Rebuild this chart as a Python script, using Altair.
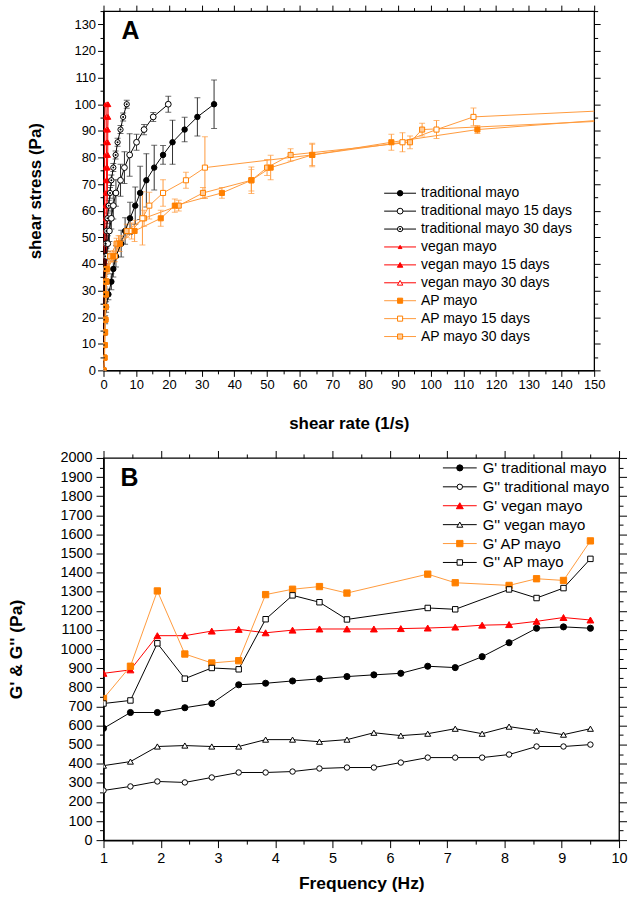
import altair as alt
import pandas as pd

FONT = "Liberation Sans"

# ================= Panel A : flow curves =================
STRESS = [0, 4.76, 9.52, 14.29, 19.05, 23.81, 28.57, 33.33, 38.10, 42.86, 47.62,
          52.38, 57.14, 61.90, 66.67, 71.43, 76.19, 80.95, 85.71, 90.48, 95.24, 100.0]

A_SERIES = ["traditional mayo", "traditional mayo 15 days", "traditional mayo 30 days",
            "vegan mayo", "vegan mayo 15 days", "vegan mayo 30 days",
            "AP mayo", "AP mayo 15 days", "AP mayo 30 days"]
# drawing order (first drawn = bottom)
A_DRAW = ["vegan mayo 30 days", "vegan mayo", "vegan mayo 15 days",
          "traditional mayo 30 days", "traditional mayo 15 days", "traditional mayo",
          "AP mayo 30 days", "AP mayo 15 days", "AP mayo"]

TRAD = [0, 0.1, 0.2, 0.3, 0.5, 0.8, 1.5, 2.4, 3.0, 3.8, 5.4, 6.6, 8.1, 9.7, 11.2, 13.1, 15.5, 18.2, 21.1, 24.8, 28.7, 33.8]
TRAD_ERR = [0, 0.5, 0.5, 1, 1.5, 2, 2, 3, 3, 4, 5, 5, 6, 7, 10, 10, 8.4, 3.5, 8.3, 4.6, 7.2, 9.1]
TRAD15 = [0, 0.02, 0.05, 0.1, 0.15, 0.2, 0.3, 0.4, 0.6, 0.9, 1.3, 1.8, 2.4, 3.0, 3.8, 5.2, 6.4, 8.0, 10.1, 12.4, 15.2, 19.8]
TRAD15_ERR = [0, 0, 0.5, 0.5, 1, 1, 1.5, 2, 2, 3, 3, 4, 4, 5, 5, 6, 6, 8, 3, 1.9, 1.7, 3]
TRAD30 = [0, 0.02, 0.04, 0.07, 0.1, 0.15, 0.2, 0.25, 0.35, 0.5, 0.7, 0.9, 1.2, 1.6, 2.0, 2.4, 3.0, 3.7, 4.3, 5.2, 6.0, 7.1]
TRAD30_ERR = [0, 0, 0, 0.5, 0.5, 0.5, 1, 1, 1, 1.5, 1.5, 1.5, 2, 2, 2, 2, 1.5, 1.5, 1.5, 1.5, 1.5, 1.5]
VEGAN = [0, 0.05, 0.05, 0.1, 0.1, 0.1, 0.15, 0.15, 0.2, 0.2, 0.2, 0.25, 0.25, 0.3, 0.3, 0.3, 0.35, 0.35, 0.4, 0.4, 0.45, 0.5]
VEGAN15 = [0, 0.1, 0.2, 0.3, 0.4, 0.5, 0.6, 0.7, 0.8, 0.9, 1.0, 1.0, 1.1, 1.1, 1.2, 1.2, 1.2, 1.3, 1.3, 1.3, 1.4, 1.4]
VEGAN30 = [0, 0.1, 0.15, 0.2, 0.3, 0.4, 0.5, 0.5, 0.6, 0.6, 0.7, 0.7, 0.8, 0.8, 0.8, 0.9, 0.9, 0.9, 1.0, 1.0, 1.0, 1.1]
VEGAN_ERR = [0, 0, 0, 0, 0, 0, 0, 0, 0, 0, 0, 0, 0, 0, 0, 0, 0, 0, 0, 0, 0, 0]
AP = [0, 0.3, 0.3, 0.4, 0.5, 0.5, 0.6, 0.7, 0.9, 3.0, 5.0, 9.5, 17.5, 21.8, 36.2, 45.2, 51.1, 63.8, 88.0, 114.3, 165.0, 215.0]
AP_ERR = [0, 0.5, 0.5, 0.5, 0.5, 0.5, 0.5, 1, 1.5, 2, 3, 4, 3, 2.5, 2, 5, 4.6, 4, 3, 1.5, 2, 2]
AP15 = [0, 0.3, 0.4, 0.5, 0.6, 0.7, 0.8, 0.9, 1.1, 3.5, 4.6, 8.6, 11.9, 14.0, 18.2, 25.2, 31.0, 63.8, 91.4, 101.8, 113.1, 195.0]
AP15_ERR = [0, 0.5, 0.5, 0.5, 0.5, 0.5, 0.5, 1, 1.5, 2, 3, 3, 10, 5, 5, 3, 11.6, 4.4, 3.6, 3.4, 3.3, 3]
AP30 = [0, 0.2, 0.3, 0.4, 0.5, 0.6, 0.7, 0.8, 1.0, 2.0, 4.0, 7.1, 12.4, 23.0, 30.4, 45.2, 50.0, 57.2, 93.7, 97.4, 180.0, 240.0]
AP30_ERR = [0, 0.5, 0.5, 0.5, 0.5, 0.5, 0.5, 1, 1.5, 2, 2, 2.5, 3, 2, 2, 4, 3, 2.3, 2.4, 2.4, 2, 2]

A_X = [TRAD, TRAD15, TRAD30, VEGAN, VEGAN15, VEGAN30, AP, AP15, AP30]
A_E = [TRAD_ERR, TRAD15_ERR, TRAD30_ERR, VEGAN_ERR, VEGAN_ERR, VEGAN_ERR, AP_ERR, AP15_ERR, AP30_ERR]

A_XMAJ = [0, 10, 20, 30, 40, 50, 60, 70, 80, 90, 100, 110, 120, 130, 140, 150]
A_XMIN = [5, 15, 25, 35, 45, 55, 65, 75, 85, 95, 105, 115, 125, 135, 145]
A_YMAJ = [0, 10, 20, 30, 40, 50, 60, 70, 80, 90, 100, 110, 120, 130]
A_YMIN = [5, 15, 25, 35, 45, 55, 65, 75, 85, 95, 105, 115, 125, 135]

# styles (kept apart from data)
BLK, RED, ORG, ORGL = "#000000", "#ff0000", "#ff8000", "#ff9a3c"
A_STYLE = {
    "traditional mayo":          dict(line=BLK, stroke=BLK, fill=BLK, shape="circle", size=30, ecol="#303030"),
    "traditional mayo 15 days":  dict(line=BLK, stroke=BLK, fill="#ffffff", shape="circle", size=34, ecol="#303030"),
    "traditional mayo 30 days":  dict(line=BLK, stroke=BLK, fill="#ffffff", shape="circle", size=28, ecol="#303030"),
    "vegan mayo":                dict(line=RED, stroke=RED, fill=RED, shape="triangle-up", size=14, ecol=RED),
    "vegan mayo 15 days":        dict(line=RED, stroke=RED, fill=RED, shape="triangle-up", size=30, ecol=RED),
    "vegan mayo 30 days":        dict(line=RED, stroke=RED, fill="#ffffff", shape="triangle-up", size=30, ecol=RED),
    "AP mayo":                   dict(line=ORGL, stroke=ORG, fill=ORG, shape="square", size=26, ecol=ORGL),
    "AP mayo 15 days":           dict(line=ORGL, stroke=ORG, fill="#ffffff", shape="square", size=26, ecol=ORGL),
    "AP mayo 30 days":           dict(line=ORGL, stroke=ORG, fill="#ffcc99", shape="square", size=26, ecol=ORGL),
}

rowsA, capsA = [], []
for name, xs, es in zip(A_SERIES, A_X, A_E):
    st = A_STYLE[name]
    for i, (x, s, e) in enumerate(zip(xs, STRESS, es)):
        rowsA.append(dict(series=name, draw=A_DRAW.index(name), idx=i, shear=x, stress=s,
                          lo=s - e, hi=s + e, err=e, **st))
        if e > 0:
            capsA.append(dict(series=name, shear=x, cap=s - e, err=e, **st))
            capsA.append(dict(series=name, shear=x, cap=s + e, err=e, **st))
dfA = pd.DataFrame(rowsA).sort_values(["draw", "idx"]).reset_index(drop=True)
dfErrA = dfA[dfA["err"] > 0]
dfCapsA = pd.DataFrame(capsA)
dfA_leg = pd.DataFrame([dict(label=n, row=i, **A_STYLE[n]) for i, n in enumerate(A_SERIES)])
dfA_leg["dot"] = [n == "traditional mayo 30 days" for n in A_SERIES]

# ================= Panel B : oscillatory =================
FREQ = [1.00, 1.47, 1.94, 2.42, 2.89, 3.36, 3.83, 4.30, 4.77, 5.25, 5.72, 6.19, 6.66, 7.14, 7.61, 8.08, 8.56, 9.03, 9.50]
FREQ_AP = [1.00, 1.47, 1.94, 2.42, 2.89, 3.36, 3.83, 4.30, 4.77, 5.25, 6.66, 7.14, 8.08, 8.56, 9.03, 9.50]

B_SERIES = ["G' traditional mayo", "G'' traditional mayo", "G' vegan mayo",
            "G'' vegan mayo", "G' AP mayo", "G'' AP mayo"]
GP_TRAD = [585, 668, 668, 693, 715, 813, 821, 833, 844, 856, 865, 873, 910, 903, 960, 1033, 1109, 1116, 1109]
GPP_TRAD = [260, 281, 307, 302, 328, 354, 354, 359, 375, 380, 380, 406, 432, 432, 432, 448, 490, 490, 500]
GP_VEGAN = [873, 891, 1070, 1070, 1094, 1103, 1085, 1099, 1105, 1105, 1105, 1107, 1110, 1115, 1125, 1128, 1145, 1165, 1152]
GPP_VEGAN = [390, 411, 490, 495, 490, 490, 526, 526, 515, 526, 562, 547, 557, 583, 557, 594, 573, 552, 583]
GP_AP = [741, 910, 1304, 974, 927, 939, 1285, 1313, 1327, 1293, 1392, 1347, 1333, 1368, 1359, 1566]
GPP_AP = [715, 731, 1030, 845, 901, 894, 1156, 1281, 1245, 1155, 1215, 1208, 1312, 1267, 1319, 1472]

B_X = [FREQ, FREQ, FREQ, FREQ, FREQ_AP, FREQ_AP]
B_Y = [GP_TRAD, GPP_TRAD, GP_VEGAN, GPP_VEGAN, GP_AP, GPP_AP]

B_XMAJ = [1, 2, 3, 4, 5, 6, 7, 8, 9, 10]
B_XMIN = [1.5, 2.5, 3.5, 4.5, 5.5, 6.5, 7.5, 8.5, 9.5]
B_YMAJ = [0, 100, 200, 300, 400, 500, 600, 700, 800, 900, 1000, 1100, 1200, 1300, 1400,
          1500, 1600, 1700, 1800, 1900, 2000]
B_YMIN = [50, 150, 250, 350, 450, 550, 650, 750, 850, 950, 1050, 1150, 1250, 1350, 1450,
          1550, 1650, 1750, 1850, 1950]

B_STYLE = {
    "G' traditional mayo":  dict(line=BLK, stroke=BLK, fill=BLK, shape="circle", size=38),
    "G'' traditional mayo": dict(line=BLK, stroke=BLK, fill="#ffffff", shape="circle", size=30),
    "G' vegan mayo":        dict(line=RED, stroke=RED, fill=RED, shape="triangle-up", size=48),
    "G'' vegan mayo":       dict(line=BLK, stroke=BLK, fill="#ffffff", shape="triangle-up", size=36),
    "G' AP mayo":           dict(line=ORGL, stroke=ORG, fill=ORG, shape="square", size=40),
    "G'' AP mayo":          dict(line=BLK, stroke=BLK, fill="#ffffff", shape="square", size=30),
}
rowsB = []
for name, xs, ys in zip(B_SERIES, B_X, B_Y):
    for i, (x, y) in enumerate(zip(xs, ys)):
        rowsB.append(dict(series=name, idx=i, freq=x, mod=y, **B_STYLE[name]))
dfB = pd.DataFrame(rowsB)
dfB_leg = pd.DataFrame([dict(label=n, row=i, **B_STYLE[n]) for i, n in enumerate(B_SERIES)])


def frame_axes(df, xf, yf, xs, ys, xmaj, xmin, ymaj, ymin, xtitle, ytitle, xtp, ytp,
               xlp, ylp, lfs, tfs, tmaj, tmin):
    com = dict(grid=False, tickColor="black", domainColor="black", labelColor="black",
               tickWidth=1, titleColor="black")
    lab = dict(labelFontSize=lfs, titleFontSize=tfs, format="d", domainWidth=1.5, labelFlush=False)

    def lay(xax, yax):
        return alt.Chart(df).mark_point(opacity=0, clip=True).encode(
            x=alt.X(xf, type="quantitative", scale=xs, axis=xax),
            y=alt.Y(yf, type="quantitative", scale=ys, axis=yax))

    return [
        lay(alt.Axis(orient="bottom", values=xmaj, tickSize=tmaj, labelPadding=xlp, title=xtitle,
                     titlePadding=xtp, **lab, **com),
            alt.Axis(orient="left", values=ymaj, tickSize=tmaj, labelPadding=ylp, title=ytitle,
                     titlePadding=ytp, **lab, **com)),
        lay(alt.Axis(orient="bottom", values=xmin, tickSize=tmin, labels=False, domain=False, title=None, **com),
            alt.Axis(orient="left", values=ymin, tickSize=tmin, labels=False, domain=False, title=None, **com)),
        lay(alt.Axis(orient="top", values=xmaj, tickSize=tmaj, labels=False, domain=False, title=None, **com),
            alt.Axis(orient="right", values=ymaj, tickSize=tmaj, labels=False, domain=False, title=None, **com)),
        lay(alt.Axis(orient="top", values=xmin, tickSize=tmin, labels=False, domain=False, title=None, **com),
            alt.Axis(orient="right", values=ymin, tickSize=tmin, labels=False, domain=False, title=None, **com)),
    ]


def legend_layers(dfl, x0, x1, xm, xt, y0, dy, fs):
    base = alt.Chart(dfl).transform_calculate(ly=f"{y0} + datum.row * {dy}")
    ly = alt.Y("ly:Q", scale=None, axis=None)
    lines = base.mark_rule(strokeWidth=1).encode(
        x=alt.value(x0), x2=alt.value(x1), y=ly, stroke=alt.Stroke("line:N", scale=None))
    pts = base.mark_point(filled=True, opacity=1, strokeWidth=1).encode(
        x=alt.value(xm), y=ly,
        shape=alt.Shape("shape:N", scale=None), fill=alt.Fill("fill:N", scale=None),
        stroke=alt.Stroke("stroke:N", scale=None), size=alt.Size("size:Q", scale=None))
    txt = base.mark_text(align="left", baseline="middle", fontSize=fs, font=FONT, color="black").encode(
        x=alt.value(xt), y=ly, text="label:N")
    return [lines, pts, txt]


# ---------- build panel A ----------
xsA = alt.Scale(domain=[0, 150], nice=False, zero=False)
ysA = alt.Scale(domain=[0, 135], nice=False, zero=False)
encA = dict(x=alt.X("shear:Q", scale=xsA, axis=None), y=alt.Y("stress:Q", scale=ysA, axis=None))

errA = alt.Chart(dfErrA).mark_rule(clip=True, strokeWidth=1).encode(
    x=alt.X("shear:Q", scale=xsA, axis=None), y=alt.Y("lo:Q", scale=ysA, axis=None), y2="hi:Q",
    stroke=alt.Stroke("ecol:N", scale=None))
capA = alt.Chart(dfCapsA).mark_tick(clip=True, orient="horizontal", size=6, thickness=1).encode(
    x=alt.X("shear:Q", scale=xsA, axis=None), y=alt.Y("cap:Q", scale=ysA, axis=None),
    color=alt.Color("ecol:N", scale=None))
lineA = alt.Chart(dfA).mark_line(clip=True, strokeWidth=1).encode(
    **encA, stroke=alt.Stroke("line:N", scale=None), detail="series:N", order="idx:Q")
ptA = alt.Chart(dfA).mark_point(clip=True, filled=True, opacity=1, strokeWidth=1).encode(
    **encA, shape=alt.Shape("shape:N", scale=None), fill=alt.Fill("fill:N", scale=None),
    stroke=alt.Stroke("stroke:N", scale=None), size=alt.Size("size:Q", scale=None))
dotA = alt.Chart(dfA[dfA["series"] == "traditional mayo 30 days"]).mark_point(
    clip=True, filled=True, opacity=1, shape="circle", size=4, color="black").encode(**encA)

legA = legend_layers(dfA_leg, 282, 314, 298, 319, 183, 18, 14)
legDotA = alt.Chart(dfA_leg[dfA_leg["dot"]]).transform_calculate(ly="183 + datum.row * 18").mark_point(
    filled=True, opacity=1, shape="circle", size=4, color="black").encode(
    x=alt.value(298), y=alt.Y("ly:Q", scale=None, axis=None))
labA = alt.Chart(pd.DataFrame({"t": ["A"]})).mark_text(
    align="left", baseline="alphabetic", fontSize=25, fontWeight="bold", font=FONT, color="black").encode(
    x=alt.value(18), y=alt.value(28), text="t:N")

axesA = frame_axes(dfA, "shear", "stress", xsA, ysA, A_XMAJ, A_XMIN, A_YMAJ, A_YMIN,
                   "shear rate (1/s)", "shear stress (Pa)", 24, 30, 2, 2, 13, 17, 6, 3.5)

panelA = alt.layer(*axesA, errA, capA, lineA, ptA, dotA, *legA, legDotA, labA).resolve_axis(
    x="independent", y="independent").properties(width=493, height=361)

# ---------- build panel B ----------
xsB = alt.Scale(domain=[1, 10], nice=False, zero=False)
ysB = alt.Scale(domain=[0, 2000], nice=False, zero=False)
encB = dict(x=alt.X("freq:Q", scale=xsB, axis=None), y=alt.Y("mod:Q", scale=ysB, axis=None))
lineB = alt.Chart(dfB).mark_line(clip=True, strokeWidth=1).encode(
    **encB, stroke=alt.Stroke("line:N", scale=None), detail="series:N", order="idx:Q")
ptB = alt.Chart(dfB).mark_point(clip=True, filled=True, opacity=1, strokeWidth=1).encode(
    **encB, shape=alt.Shape("shape:N", scale=None), fill=alt.Fill("fill:N", scale=None),
    stroke=alt.Stroke("stroke:N", scale=None), size=alt.Size("size:Q", scale=None))
legB = legend_layers(dfB_leg, 341, 375, 358, 381, 10, 19, 15)
labB = alt.Chart(pd.DataFrame({"t": ["B"]})).mark_text(
    align="left", baseline="alphabetic", fontSize=25, fontWeight="bold", font=FONT, color="black").encode(
    x=alt.value(17), y=alt.value(28), text="t:N")
axesB = frame_axes(dfB, "freq", "mod", xsB, ysB, B_XMAJ, B_XMIN, B_YMAJ, B_YMIN,
                   "Frequency (Hz)", "G' & G'' (Pa)", 10, 35, 4, 4, 14.5, 17.5, 7.5, 4)

panelB = alt.layer(*axesB, lineB, ptB, *legB, labB).resolve_axis(
    x="independent", y="independent").properties(width=518, height=384)

chart = alt.vconcat(panelA, panelB, spacing=17).configure(
    padding={"left": 6, "top": 1, "right": 2, "bottom": 3}, font=FONT
).configure_view(stroke="black", strokeWidth=1.3).configure_axis(
    labelFont=FONT, titleFont=FONT, titleFontWeight="bold")

chart.save("out.html", embed_options={"renderer": "svg", "actions": False})
